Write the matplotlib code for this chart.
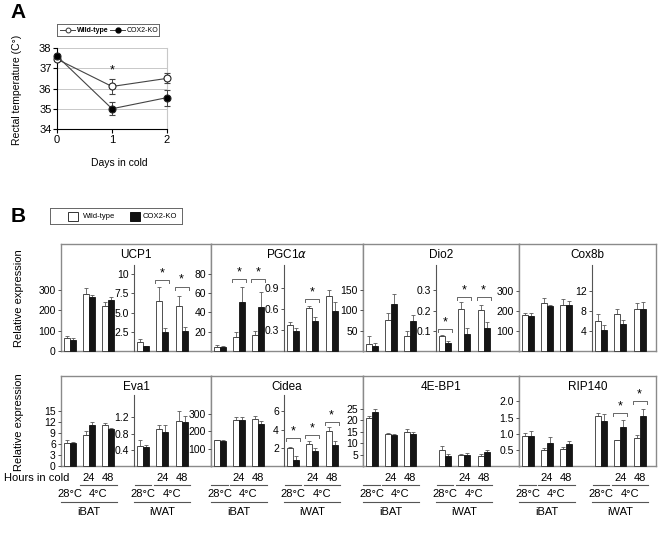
import matplotlib
matplotlib.use('Agg')
import matplotlib.pyplot as plt
import matplotlib.transforms as mtrans
from matplotlib.lines import Line2D
from matplotlib.patches import Rectangle
import numpy as np

plt.rcParams['font.family'] = ['Liberation Sans', 'DejaVu Sans']
plt.rcParams['mathtext.fontset'] = 'dejavusans'

# ---- panel A: rectal temperature ----
days = [0, 1, 2]
wt_temp = [37.45, 36.1, 36.5]
wt_temp_err = [0.1, 0.38, 0.25]
ko_temp = [37.6, 35.0, 35.55]
ko_temp_err = [0.1, 0.32, 0.4]

# ---- panel B: relative expression (iBAT 28C/24h/48h, then iWAT 28C/24h/48h) ----
groups = ['28°C', '24', '48']
tissues = ['iBAT', 'iWAT']
genes = ['UCP1', r'PGC1$\alpha$', 'Dio2', 'Cox8b', 'Eva1', 'Cidea', '4E-BP1', 'RIP140']

ucp1_wt = [65, 280, 220, 1.2, 6.5, 5.8]
ucp1_wt_err = [10, 30, 20, 0.4, 1.8, 1.4]
ucp1_ko = [55, 265, 250, 0.6, 2.5, 2.6]
ucp1_ko_err = [10, 10, 15, 0.1, 0.5, 0.5]

pgc1a_wt = [4, 15, 17, 0.37, 0.62, 0.78]
pgc1a_wt_err = [2, 5, 4, 0.05, 0.03, 0.09]
pgc1a_ko = [4, 51, 46, 0.28, 0.43, 0.57]
pgc1a_ko_err = [1.5, 15, 15, 0.05, 0.05, 0.13]

dio2_wt = [17, 77, 38, 0.073, 0.21, 0.202]
dio2_wt_err = [19, 16, 12, 0.004, 0.032, 0.024]
dio2_ko = [11.5, 115, 73, 0.039, 0.085, 0.112]
dio2_ko_err = [9, 25, 16, 0.008, 0.027, 0.029]

cox8b_wt = [180, 240, 232, 5.9, 7.4, 8.4]
cox8b_wt_err = [10, 26, 28, 1.5, 0.9, 1.2]
cox8b_ko = [176, 224, 232, 4.2, 5.4, 8.4]
cox8b_ko_err = [12, 8, 20, 1.0, 0.8, 1.3]

eva1_wt = [6.3, 8.5, 11.0, 0.5, 0.92, 1.1]
eva1_wt_err = [0.7, 0.9, 0.6, 0.15, 0.1, 0.25]
eva1_ko = [6.2, 11.2, 10.0, 0.47, 0.85, 1.08]
eva1_ko_err = [0.4, 0.8, 0.4, 0.04, 0.15, 0.15]

cidea_wt = [148, 268, 270, 2.0, 2.4, 3.85]
cidea_wt_err = [4, 15, 20, 0.1, 0.35, 0.45]
cidea_ko = [145, 264, 245, 0.7, 1.65, 2.3]
cidea_ko_err = [4, 18, 15, 0.35, 0.3, 0.4]

eif4ebp1_wt = [21.0, 13.9, 14.8, 7.1, 4.8, 4.3]
eif4ebp1_wt_err = [1.0, 0.4, 1.2, 1.5, 0.4, 0.8]
eif4ebp1_ko = [23.4, 13.4, 14.0, 4.5, 4.8, 6.2]
eif4ebp1_ko_err = [1.5, 0.5, 0.8, 0.7, 0.8, 0.9]

rip140_wt = [0.92, 0.5, 0.52, 1.56, 0.8, 0.86]
rip140_wt_err = [0.1, 0.07, 0.08, 0.08, 0.0, 0.1]
rip140_ko = [0.94, 0.71, 0.68, 1.39, 1.21, 1.55]
rip140_ko_err = [0.15, 0.2, 0.09, 0.22, 0.2, 0.23]

# significance: (tissue index, group index, bracket level)
ucp1_stars = [(1, 1, 9.3), (1, 2, 8.4)]
pgc1a_stars = [(0, 1, 74), (0, 2, 74), (1, 1, 0.75)]
dio2_stars = [(1, 0, 0.11), (1, 1, 0.267), (1, 2, 0.267)]
cox8b_stars = []
eva1_stars = []
cidea_stars = [(1, 0, 3.1), (1, 1, 3.4), (1, 2, 4.8)]
eif4ebp1_stars = []
rip140_stars = [(1, 1, 1.63), (1, 2, 2.0)]

gene_data = [
    (ucp1_wt, ucp1_wt_err, ucp1_ko, ucp1_ko_err, ucp1_stars),
    (pgc1a_wt, pgc1a_wt_err, pgc1a_ko, pgc1a_ko_err, pgc1a_stars),
    (dio2_wt, dio2_wt_err, dio2_ko, dio2_ko_err, dio2_stars),
    (cox8b_wt, cox8b_wt_err, cox8b_ko, cox8b_ko_err, cox8b_stars),
    (eva1_wt, eva1_wt_err, eva1_ko, eva1_ko_err, eva1_stars),
    (cidea_wt, cidea_wt_err, cidea_ko, cidea_ko_err, cidea_stars),
    (eif4ebp1_wt, eif4ebp1_wt_err, eif4ebp1_ko, eif4ebp1_ko_err, eif4ebp1_stars),
    (rip140_wt, rip140_wt_err, rip140_ko, rip140_ko_err, rip140_stars),
]

# y-axis setup per gene: (iBAT ymax, ticks), (iWAT ymax, ticks or None = no axis)
axis_cfg = [
    ((423, [0, 100, 200, 300], ['0', '100', '200', '300']),
     (11.2, [2.5, 5, 7.5, 10], ['2.5', '5.0', '7.5', '10'])),
    ((89, [20, 40, 60, 80], ['20', '40', '60', '80']),
     (1.23, [0.3, 0.6, 0.9], ['0.3', '0.6', '0.9'])),
    ((211, [50, 100, 150], ['50', '100', '150']),
     (0.425, [0.1, 0.2, 0.3], ['0.1', '0.2', '0.3'])),
    ((430, [100, 200, 300], ['100', '200', '300']),
     (17.1, [4, 8, 12], ['4', '8', '12'])),
    ((19.2, [0, 3, 6, 9, 12, 15], ['0', '3', '6', '9', '12', '15']),
     (1.75, [0.4, 0.8, 1.2], ['0.4', '0.8', '1.2'])),
    ((410, [100, 200, 300], ['100', '200', '300']),
     (7.8, [2, 4, 6], ['2', '4', '6'])),
    ((31, [5, 10, 15, 20, 25], ['5', '10', '15', '20', '25']),
     (31, None, None)),
    ((2.2, [0.5, 1.0, 1.5, 2.0], ['0.5', '1.0', '1.5', '2.0']),
     (2.2, None, None)),
]

W, H = 661, 536
fig = plt.figure(figsize=(W / 100, H / 100), dpi=100)


def ax_px(x0, y0, x1, y1):
    # axes from pixel box, origin at top-left
    return fig.add_axes([x0 / W, 1 - y1 / H, (x1 - x0) / W, (y1 - y0) / H])


def fy(y):
    return 1 - y / H


# ------------------------------ panel A ------------------------------ #
fig.text(18 / W, fy(13), 'A', fontsize=15, fontweight='bold', ha='center', va='center')

axA = ax_px(57, 48, 167, 129)
for v in [35, 36, 37, 38]:
    axA.axhline(v, color='#c8c8c8', lw=0.7, zorder=0)
for vals, errs, fc in [(wt_temp, wt_temp_err, 'white'), (ko_temp, ko_temp_err, 'black')]:
    cont = axA.errorbar(days, vals, yerr=errs, color='#444444', lw=0.8, marker='o', ms=5,
                        mfc=fc, mec='#222222', mew=0.8, capsize=2, elinewidth=0.7,
                        capthick=0.7, zorder=3)
    for art in cont.get_children():
        art.set_clip_on(False)
axA.set_xlim(0, 2)
axA.set_ylim(34, 38)
axA.set_xticks(days)
axA.set_yticks([34, 35, 36, 37, 38])
axA.tick_params(labelsize=8, length=3, width=0.8, pad=1)
axA.spines['top'].set_visible(False)
axA.spines['right'].set_color('#c8c8c8')
for s in ['left', 'bottom']:
    axA.spines[s].set_linewidth(0.8)
axA.text(1, 36.6, '*', ha='center', va='bottom', fontsize=9)
fig.text(17 / W, fy(90), 'Rectal temperature (C°)', rotation=90, fontsize=7.5,
         ha='center', va='center')
fig.text(119 / W, fy(163), 'Days in cold', fontsize=7.5, ha='center', va='center')

# legend A
axL = ax_px(57, 24, 159, 36)
axL.set_xlim(0, 102)
axL.set_ylim(0, 1)
axL.set_xticks([])
axL.set_yticks([])
for s in axL.spines.values():
    s.set_color('#666666')
    s.set_linewidth(0.7)
axL.plot([3, 18], [0.5, 0.5], color='#444444', lw=0.7)
axL.plot([10.5], [0.5], 'o', ms=3.5, mfc='white', mec='#333333', mew=0.7)
axL.text(20, 0.48, 'Wild-type', fontsize=5, va='center', fontweight='bold')
axL.plot([53, 68], [0.5, 0.5], color='#444444', lw=0.7)
axL.plot([60.5], [0.5], 'o', ms=3.5, mfc='black', mec='black')
axL.text(70, 0.48, 'COX2-KO', fontsize=5, va='center')

# ------------------------------ panel B ------------------------------ #
fig.text(18 / W, fy(216), 'B', fontsize=15, fontweight='bold', ha='center', va='center')

axLB = ax_px(50, 208, 182, 224)
axLB.set_xlim(0, 132)
axLB.set_ylim(0, 16)
axLB.set_xticks([])
axLB.set_yticks([])
for s in axLB.spines.values():
    s.set_color('#666666')
    s.set_linewidth(0.7)
axLB.add_patch(Rectangle((18, 3.5), 10, 9, facecolor='white', edgecolor='#333333', lw=0.7))
axLB.text(33, 8, 'Wild-type', fontsize=5.5, va='center')
axLB.add_patch(Rectangle((80, 3.5), 10, 9, facecolor='#111111', edgecolor='#111111', lw=0.7))
axLB.text(93, 8, 'COX2-KO', fontsize=5.5, va='center')

PANEL_X = [61, 211, 363, 519, 656]
ROWS = [dict(top=244, spine=265, base=351), dict(top=376, spine=395, base=466)]
GROUP_PX = 19.3
BAR_W = 6 / GROUP_PX
SPINE_OFF = 73
x = np.arange(3)
# label rows under the bottom panels (pixel y)
Y_HOURS, Y_LINE1, Y_TEMP, Y_LINE2, Y_TISSUE = 478, 485, 494, 502, 512

for g, name in enumerate(genes):
    row = ROWS[g // 4]
    x0, x1 = PANEL_X[g % 4], PANEL_X[g % 4 + 1]
    wt, wt_err, ko, ko_err, stars = gene_data[g]

    frame = ax_px(x0, row['top'], x1, row['base'])
    frame.set_xticks([])
    frame.set_yticks([])
    frame.set_zorder(0)
    for s in frame.spines.values():
        s.set_color('#8a8a8a')
        s.set_linewidth(1.0)
    fig.text((x0 + x1) / 2 / W, fy(row['top'] + 11), name, fontsize=8.5,
             ha='center', va='center')

    subs = [ax_px(x0, row['spine'], x0 + SPINE_OFF, row['base']),
            ax_px(x0 + SPINE_OFF, row['spine'], x1, row['base'])]
    subs[0].set_xlim(-8.5 / GROUP_PX, (SPINE_OFF - 8.5) / GROUP_PX)
    subs[1].set_xlim(-9 / GROUP_PX, (x1 - x0 - SPINE_OFF - 9) / GROUP_PX)

    for t, ax in enumerate(subs):
        ax.set_zorder(2)
        ax.set_facecolor('none')
        sl = slice(3 * t, 3 * t + 3)
        ymax, ticks, labels = axis_cfg[g][t]
        ax.set_ylim(0, ymax)
        ax.bar(x - BAR_W / 2, wt[sl], BAR_W, color='white', edgecolor='#333333', lw=0.6,
               clip_on=False, zorder=2)
        ax.bar(x + BAR_W / 2, ko[sl], BAR_W, color='#151515', edgecolor='#151515', lw=0.6,
               clip_on=False, zorder=2)
        for off, vals, errs in [(-BAR_W / 2, wt[sl], wt_err[sl]), (BAR_W / 2, ko[sl], ko_err[sl])]:
            cont = ax.errorbar(x + off, vals, yerr=[np.zeros(3), errs], fmt='none',
                               ecolor='#5a5a5a', elinewidth=0.6, capsize=1.2, capthick=0.6,
                               zorder=1)
            for art in cont.get_children():
                art.set_clip_on(False)

        for s in ax.spines.values():
            s.set_visible(False)
        ax.set_xticks([])
        if ticks is None:
            ax.set_yticks([])
        else:
            ax.set_yticks(ticks)
            ax.set_yticklabels(labels)
            ax.tick_params(axis='y', labelsize=7.5, length=2.5, width=0.7, color='#555555',
                           pad=1.2)
            if t == 1:
                ax.spines['left'].set_visible(True)
                ax.spines['left'].set_color('#555555')
                ax.spines['left'].set_linewidth(0.8)

        # significance brackets
        tick_len = 3.0 / (row['base'] - row['spine']) * ymax
        for st, sg, lvl in stars:
            if st != t:
                continue
            ax.plot([sg - 0.36, sg - 0.36, sg + 0.36, sg + 0.36],
                    [lvl - tick_len, lvl, lvl, lvl - tick_len], color='#666666', lw=0.7,
                    clip_on=False)
            ax.text(sg, lvl + tick_len * 0.2, '*', ha='center', va='bottom', fontsize=9,
                    clip_on=False)

        # category labels under the bottom row
        if g >= 4:
            trans = mtrans.blended_transform_factory(ax.transData, fig.transFigure)
            ax.text(1, fy(Y_HOURS), groups[1], transform=trans, ha='center', va='center',
                    fontsize=8)
            ax.text(2, fy(Y_HOURS), groups[2], transform=trans, ha='center', va='center',
                    fontsize=8)
            ax.add_line(Line2D([0.55, 2.45], [fy(Y_LINE1)] * 2, transform=trans,
                               color='#555555', lw=0.8, clip_on=False))
            if not (g == 4 and t == 0):
                ax.add_line(Line2D([-0.42, 0.42], [fy(Y_LINE1)] * 2, transform=trans,
                                   color='#555555', lw=0.8, clip_on=False))
            ax.text(0, fy(Y_TEMP), groups[0], transform=trans, ha='center', va='center',
                    fontsize=8)
            ax.text(1.5, fy(Y_TEMP), '4°C', transform=trans, ha='center', va='center',
                    fontsize=8)
            ax.add_line(Line2D([-0.45, 2.45], [fy(Y_LINE2)] * 2, transform=trans,
                               color='#555555', lw=0.8, clip_on=False))
            ax.text(1, fy(Y_TISSUE), tissues[t], transform=trans, ha='center', va='center',
                    fontsize=8)

fig.text(4 / W, fy(Y_HOURS), 'Hours in cold', fontsize=8, ha='left', va='center')
for yc in [298, 422]:
    fig.text(19 / W, fy(yc), 'Relative expression', rotation=90, fontsize=8,
             ha='center', va='center')

fig.savefig('out.png', dpi=100)
